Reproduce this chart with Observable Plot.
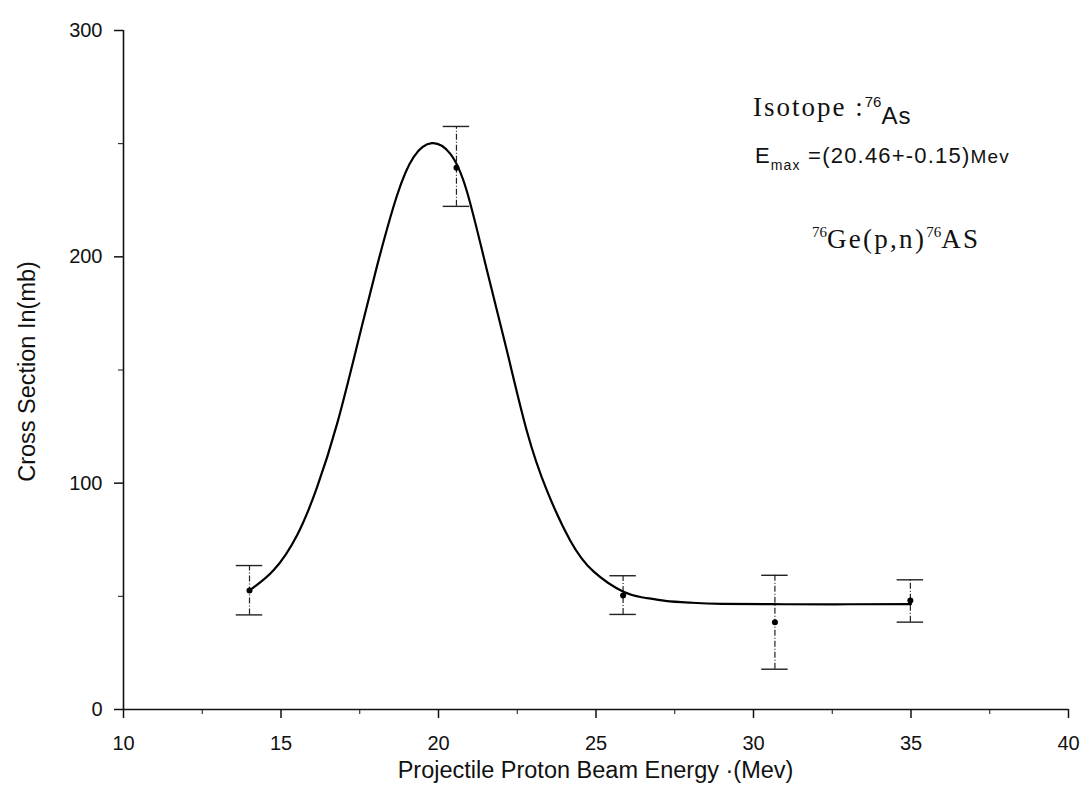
<!DOCTYPE html>
<html><head><meta charset="utf-8">
<script src="https://cdn.jsdelivr.net/npm/d3@7"></script>
<script src="https://cdn.jsdelivr.net/npm/@observablehq/plot@0.6"></script>
<style>body{margin:0;background:#fff} svg{display:block}</style>
</head><body><div id="chart"></div>
<script>
// measured data points (energy in MeV, cross section in mb)
const energy = [14.0, 20.57, 25.86, 30.68, 34.98];
const crossSection = [52.6, 239.4, 50.4, 38.6, 48.2];
const errLow = [41.8, 222.3, 42.0, 17.8, 38.6];
const errHigh = [63.6, 257.6, 59.1, 59.3, 57.3];

// fitted curve
const fitEnergy = [14.0, 14.77, 15.51, 16.14, 16.78, 17.41, 18.05, 18.68, 19.21, 19.79, 20.37, 20.90, 21.53, 22.17, 22.80, 23.44, 24.18, 24.92, 25.87, 26.5, 27.2, 28.0, 29.0, 31.0, 33.0, 35.0];
const fitCross = [52.6, 61.6, 77.0, 98.0, 126.2, 160.5, 196.0, 227.0, 244.1, 250.2, 245.6, 229.0, 194.5, 158.6, 123.3, 96.8, 74.7, 61.0, 52.0, 49.5, 48.0, 47.2, 46.7, 46.5, 46.5, 46.6];

const xTicks = [10, 15, 20, 25, 30, 35, 40];
const xMinor = [12.5, 17.5, 22.5, 27.5, 32.5, 37.5];
const yTicks = [0, 100, 200, 300];
const yMinor = [50, 150, 250];

const xTitle = "Projectile Proton Beam Energy \u00b7(Mev)";
const yTitle = "Cross Section In(mb)";

const points = energy.map((x, i) => ({x, y: crossSection[i], lo: errLow[i], hi: errHigh[i]}));
const fit = fitEnergy.map((x, i) => ({x, y: fitCross[i]}));
const capHalf = 0.42;

const W = 1091, H = 805;
const sans = "'Liberation Sans', Arial, Helvetica, sans-serif";
const serif = "'Liberation Serif', 'Times New Roman', serif";

function annotations(index, scales, values, dimensions) {
  const g = d3.create("svg:g");
  const x = scales.x, y = scales.y;
  // x title
  g.append("text").attr("x", (x(10) + x(40)) / 2).attr("y", 778)
    .attr("text-anchor", "middle").attr("font-family", sans).attr("font-size", 23.5).attr("fill", "#111")
    .text(xTitle);
  // y title
  g.append("text").attr("transform", `translate(35,${(y(0) + y(300)) / 2 + 2}) rotate(-90)`)
    .attr("text-anchor", "middle").attr("font-family", sans).attr("font-size", 23.5).attr("fill", "#111")
    .text(yTitle);
  // Isotope label
  const t1 = g.append("text").attr("x", x(30.0)).attr("y", y(262)).attr("fill", "#111")
    .attr("text-anchor", "start")
    .attr("font-family", serif).attr("font-size", 27).attr("letter-spacing", 2);
  t1.append("tspan").text("Isotope :");
  t1.append("tspan").attr("font-size", 15).attr("dy", -9).attr("font-family", sans).attr("letter-spacing", 0).text("76");
  t1.append("tspan").attr("font-size", 24).attr("dy", 17).attr("font-family", sans).attr("letter-spacing", 1).text("As");
  // Emax label
  const t2 = g.append("text").attr("x", x(30.06)).attr("y", y(241.3)).attr("fill", "#111")
    .attr("text-anchor", "start")
    .attr("font-family", sans).attr("font-size", 22).attr("letter-spacing", 1.2);
  t2.append("tspan").text("E");
  t2.append("tspan").attr("font-size", 14).attr("dy", 7).text("max");
  t2.append("tspan").attr("dy", -7).text(" =(20.46+-0.15)");
  t2.append("tspan").attr("font-size", 19).text("Mev");
  // reaction label
  const t3 = g.append("text").attr("x", x(31.87)).attr("y", y(203.7)).attr("fill", "#111")
    .attr("text-anchor", "start")
    .attr("font-family", serif).attr("font-size", 27).attr("letter-spacing", 2.3);
  t3.append("tspan").attr("font-size", 15).attr("dy", -11).attr("letter-spacing", 0).text("76");
  t3.append("tspan").attr("dy", 11).text("Ge(p,n)");
  t3.append("tspan").attr("font-size", 15).attr("dy", -11).attr("letter-spacing", 0).text("76");
  t3.append("tspan").attr("dy", 11).text("AS");
  return g.node();
}

const chart = Plot.plot({
  width: W, height: H,
  marginLeft: 123, marginRight: 23, marginTop: 30, marginBottom: 96,
  style: {fontFamily: sans, fontSize: "20px", background: "#fff", color: "#111"},
  x: {domain: [10, 40]},
  y: {domain: [0, 300]},
  marks: [
    Plot.axisX({ticks: xTicks, tickSize: 9, tickPadding: 17, tickFormat: d => String(d), label: null, strokeWidth: 1.5}),
    Plot.axisX({ticks: xMinor, tickSize: 5, tickFormat: () => "", label: null}),
    Plot.axisY({ticks: yTicks, tickSize: 9, tickPadding: 12, tickFormat: d => String(d), label: null, strokeWidth: 1.5}),
    Plot.axisY({ticks: yMinor, tickSize: 5, tickFormat: () => "", label: null}),
    Plot.ruleY([0], {stroke: "#111", strokeWidth: 1.6}),
    Plot.ruleX([10], {y1: 0, y2: 300, stroke: "#111", strokeWidth: 1.6}),
    Plot.ruleX(points, {x: "x", y1: "lo", y2: "hi", stroke: "#222", strokeWidth: 1.2, strokeDasharray: "6,2,1,2"}),
    Plot.ruleY(points, {y: "hi", x1: d => d.x - capHalf, x2: d => d.x + capHalf, stroke: "#222", strokeWidth: 1.4}),
    Plot.ruleY(points, {y: "lo", x1: d => d.x - capHalf, x2: d => d.x + capHalf, stroke: "#222", strokeWidth: 1.4}),
    Plot.line(fit, {x: "x", y: "y", curve: "natural", stroke: "#000", strokeWidth: 2.2}),
    Plot.dot(points, {x: "x", y: "y", r: 3, fill: "#000", stroke: "none"}),
    annotations
  ]
});
document.getElementById("chart").appendChild(chart);
</script>
</body></html>
